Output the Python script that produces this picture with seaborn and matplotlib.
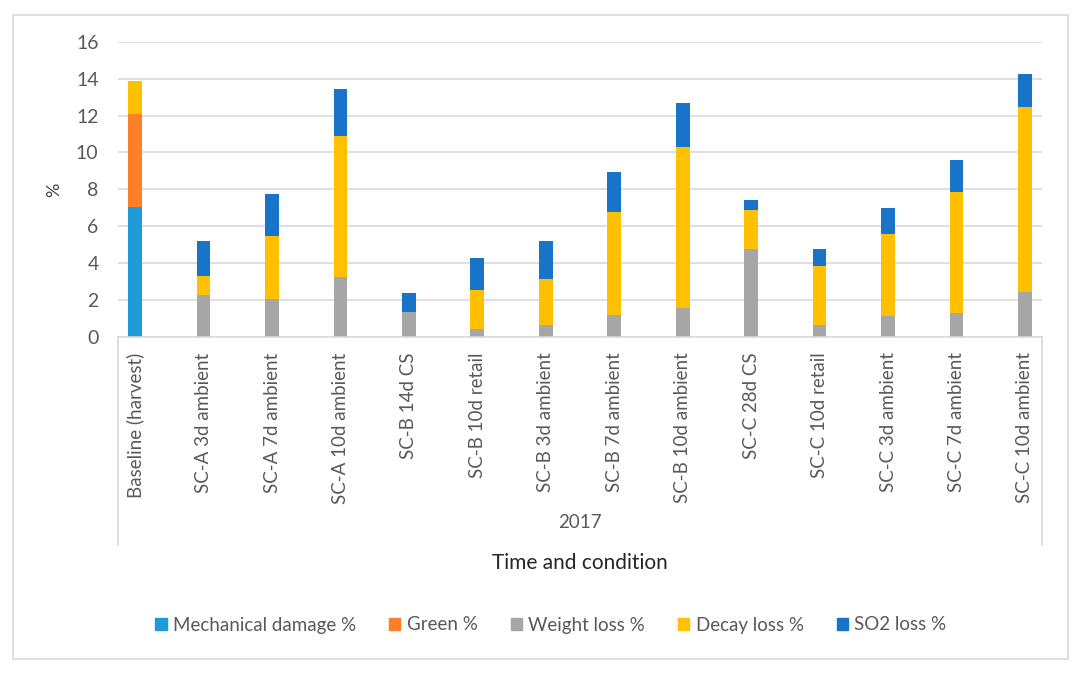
import matplotlib
matplotlib.use("Agg")
import matplotlib.pyplot as plt
import matplotlib.patches as mpatches
import seaborn as sns
import pandas as pd
import numpy as np

categories = ["Baseline (harvest)", "SC-A 3d ambient", "SC-A 7d ambient", "SC-A 10d ambient",
              "SC-B 14d CS", "SC-B 10d retail", "SC-B 3d ambient", "SC-B 7d ambient",
              "SC-B 10d ambient", "SC-C 28d CS", "SC-C 10d retail", "SC-C 3d ambient",
              "SC-C 7d ambient", "SC-C 10d ambient"]
mechanical = [7.05, 0, 0, 0, 0, 0, 0, 0, 0, 0, 0, 0, 0, 0]
green = [5.02, 0, 0, 0, 0, 0, 0, 0, 0, 0, 0, 0, 0, 0]
weight_loss = [0, 2.30, 2.08, 3.26, 1.36, 0.42, 0.63, 1.21, 1.58, 4.78, 0.63, 1.14, 1.30, 2.46]
decay_loss = [1.81, 1.03, 3.37, 7.64, 0, 2.13, 2.50, 5.55, 8.69, 2.12, 3.21, 4.46, 6.54, 9.99]
so2_loss = [0, 1.87, 2.30, 2.54, 1.00, 1.71, 2.07, 2.17, 2.39, 0.51, 0.94, 1.37, 1.74, 1.81]
series_names = ["Mechanical damage %", "Green %", "Weight loss %", "Decay loss %", "SO2 loss %"]
colors = ["#1f9bd9", "#fe7f27", "#a6a6a6", "#ffc000", "#1874c8"]

sns.set_style("white")
plt.rcParams["font.family"] = ["Lato", "DejaVu Sans"]

df = pd.DataFrame({"cat": categories, "m": mechanical, "g": green, "w": weight_loss,
                   "d": decay_loss, "s": so2_loss})
layers = [df["m"], df["g"], df["w"], df["d"], df["s"]]
cum = np.cumsum(np.vstack(layers), axis=0)

fig = plt.figure(figsize=(10.86, 6.75), dpi=100)
ax = fig.add_axes([118 / 1086, 1 - 337 / 675, (1042 - 118) / 1086, (337 - 41.7) / 675])

for i in range(4, -1, -1):
    sns.barplot(x=df["cat"], y=cum[i], order=categories, color=colors[i], width=0.2,
                linewidth=0, saturation=1, ax=ax, errorbar=None)

ax.set_xlim(-0.25, 13.25)
ax.set_ylim(0, 16)
ax.set_yticks(range(0, 17, 2))
ax.yaxis.grid(True, color="#d9d9d9", linewidth=1.2)
ax.set_axisbelow(True)
for sp in ["top", "right", "left"]:
    ax.spines[sp].set_visible(False)
ax.spines["bottom"].set_color("#d9d9d9")
ax.spines["bottom"].set_linewidth(1.2)
ax.tick_params(axis="y", length=0, pad=14, labelsize=14, labelcolor="#595959")
ax.tick_params(axis="x", length=0, pad=11, labelsize=13.5, labelcolor="#595959")
ax.set_xticks(range(len(categories)))
ax.set_xticklabels(categories, rotation=90, va="top", ha="center")
ax.set_xlabel("")
ax.set_ylabel("%", fontsize=13, color="#404040", labelpad=10)

# category-axis frame lines
for xx in [0, 1]:
    ax.plot([xx, xx], [0, -208 / 295.3], transform=ax.transAxes, color="#d9d9d9",
            linewidth=1.2, clip_on=False)

fig.text(580 / 1086, 1 - 523 / 675, "2017", ha="center", va="center", fontsize=13.5, color="#595959")
fig.text(580 / 1086, 1 - 563 / 675, "Time and condition", ha="center", va="center",
         fontsize=15, color="#262626")

handles = [mpatches.Patch(color=c, label=n) for c, n in zip(colors, series_names)]
fig.legend(handles=handles, loc="center", bbox_to_anchor=(551 / 1086, 1 - 625 / 675), ncol=5,
           frameon=False, fontsize=13.5, handlelength=0.6, handleheight=0.6, handletextpad=0.35,
           columnspacing=1.75, labelcolor="#595959")

border = mpatches.Rectangle((13 / 1086, 1 - 659 / 675), (1068 - 13) / 1086, (659 - 15) / 675,
                            transform=fig.transFigure, fill=False, edgecolor="#d9d9d9",
                            linewidth=1.2)
fig.patches.append(border)

fig.savefig("out.png", dpi=100)
